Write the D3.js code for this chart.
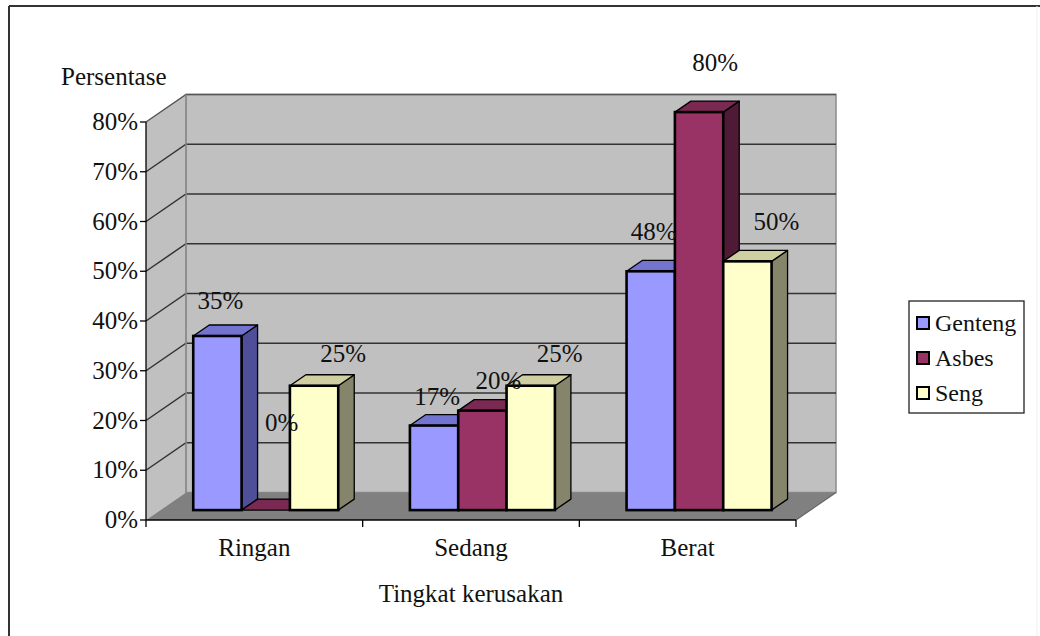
<!DOCTYPE html>
<html>
<head>
<meta charset="utf-8">
<script src="https://cdn.jsdelivr.net/npm/d3@7"></script>
<style>
  html, body { margin: 0; padding: 0; background: #fff; }
  svg { display: block; }
</style>
</head>
<body>
<svg id="chart" width="1040" height="636" font-family="'Liberation Serif', 'Times New Roman', 'DejaVu Serif', serif"></svg>
<script>
// Tingkat kerusakan atap per jenis bahan
const categories = ["Ringan", "Sedang", "Berat"];
const series = ["Genteng", "Asbes", "Seng"];
const genteng = [0.35, 0.17, 0.48];
const asbes = [0.00, 0.20, 0.80];
const seng = [0.25, 0.25, 0.50];
const yTicks = [0, 0.1, 0.2, 0.3, 0.4, 0.5, 0.6, 0.7, 0.8];
const yTitle = "Persentase";
const xTitle = "Tingkat kerusakan";

const values = [genteng, asbes, seng];
const colors = {
  Genteng: { front: "#9999ff", top: "#7373d0", side: "#4f4f99" },
  Asbes:   { front: "#993366", top: "#7a2952", side: "#4f1a35" },
  Seng:    { front: "#ffffcc", top: "#cfcfa2", side: "#85856b" }
};
const FS = 25;

const svg = d3.select("#chart");

// outer frame
svg.append("line").attr("x1", 9).attr("y1", 6).attr("x2", 1040).attr("y2", 6)
  .attr("stroke", "#333").attr("stroke-width", 2);
svg.append("line").attr("x1", 9).attr("y1", 6).attr("x2", 9).attr("y2", 636)
  .attr("stroke", "#333").attr("stroke-width", 2);
svg.append("line").attr("x1", 1037).attr("y1", 6).attr("x2", 1037).attr("y2", 636)
  .attr("stroke", "#eeeeee").attr("stroke-width", 1);

// front plane scales
const x = d3.scaleBand().domain(categories).range([146, 796]);
const y = d3.scaleLinear().domain([0, 0.8]).range([520, 122]);

// oblique depth: z = 0 front plane, z = 1 back wall
const DX = 40, DY = 27.5;
const P = (px, py, z) => [px + z * DX, py - z * DY];
const poly = pts => "M" + pts.map(p => p.join(",")).join("L") + "Z";

const x0 = x.range()[0], x1 = x.range()[1];
const yTop = y(0.8), yBase = y(0);

// side wall
svg.append("path")
  .attr("d", poly([P(x0, yTop, 0), P(x0, yTop, 1), P(x0, yBase, 1), P(x0, yBase, 0)]))
  .attr("fill", "#c0c0c0").attr("stroke", "none");
// back wall
svg.append("path")
  .attr("d", poly([P(x0, yTop, 1), P(x1, yTop, 1), P(x1, yBase, 1), P(x0, yBase, 1)]))
  .attr("fill", "#c0c0c0").attr("stroke", "#8c8c8c").attr("stroke-width", 1.5);

// gridlines on both walls
yTicks.filter(t => t > 0).forEach(t => {
  const a = P(x0, y(t), 0), b = P(x0, y(t), 1), c = P(x1, y(t), 1);
  svg.append("path").attr("d", `M${a}L${b}L${c}`)
    .attr("fill", "none").attr("stroke", t === 0.8 ? "#555" : "#333")
    .attr("stroke-width", 1.5);
});
// wall corner
svg.append("line")
  .attr("x1", P(x0, yTop, 1)[0]).attr("y1", P(x0, yTop, 1)[1])
  .attr("x2", P(x0, yBase, 1)[0]).attr("y2", P(x0, yBase, 1)[1])
  .attr("stroke", "#8c8c8c").attr("stroke-width", 1.5);

// floor
svg.append("path")
  .attr("d", poly([P(x0, yBase, 0), P(x0, yBase, 1), P(x1, yBase, 1), P(x1, yBase, 0)]))
  .attr("fill", "#808080").attr("stroke", "none");
svg.append("path")
  .attr("d", `M${P(x1, yBase, 0)}L${P(x1, yBase, 1)}`)
  .attr("stroke", "#666").attr("stroke-width", 1.2);

// bars
const zFront = 0.36, zBack = 0.76;
const groupW = 145;
const s = d3.scaleBand().domain(series).range([0, groupW]);
const groupLeft = c => x(c) + (x.bandwidth() - groupW) / 2 - 3;

const bars = [];
categories.forEach((c, ci) => {
  series.forEach((name, si) => {
    bars.push({ c, ci, name, si, v: values[si][ci] });
  });
});

const gBars = svg.append("g");
bars.forEach(d => {
  const l = groupLeft(d.c) + s(d.name), r = l + s.bandwidth();
  const yt = y(d.v), yb = y(0);
  const col = colors[d.name];
  // side face
  gBars.append("path")
    .attr("d", poly([P(r, yt, zFront), P(r, yt, zBack), P(r, yb, zBack), P(r, yb, zFront)]))
    .attr("fill", col.side).attr("stroke", "#000").attr("stroke-width", 1.3)
    .attr("stroke-linejoin", "round");
  // top face
  gBars.append("path")
    .attr("d", poly([P(l, yt, zFront), P(l, yt, zBack), P(r, yt, zBack), P(r, yt, zFront)]))
    .attr("fill", col.top).attr("stroke", "#000").attr("stroke-width", 1.3)
    .attr("stroke-linejoin", "round");
  // front face
  if (d.v > 0) {
    const a = P(l, yt, zFront), b = P(r, yb, zFront);
    gBars.append("rect")
      .attr("x", a[0]).attr("y", a[1])
      .attr("width", b[0] - a[0]).attr("height", b[1] - a[1])
      .attr("fill", col.front).attr("stroke", "#000").attr("stroke-width", 2.6);
  }
});

// value labels, spread a little per series; very short bars get lifted off the floor
const fmt = d3.format(".0%");
bars.forEach(d => {
  const l = groupLeft(d.c) + s(d.name);
  const cx = l + s.bandwidth() / 2 + (d.si - 1) * 13;
  const lv = Math.max(d.v, 0.12);
  const p = P(cx, y(lv), zBack);
  svg.append("text")
    .attr("x", p[0]).attr("y", p[1] - (4 + 33 * lv))
    .attr("text-anchor", "middle")
    .attr("font-size", FS).attr("fill", "#111")
    .text(fmt(d.v));
});

// y axis
svg.append("line").attr("x1", x0).attr("y1", yTop).attr("x2", x0).attr("y2", yBase)
  .attr("stroke", "#000").attr("stroke-width", 1.3);
yTicks.forEach(t => {
  svg.append("line").attr("x1", x0 - 6).attr("x2", x0).attr("y1", y(t)).attr("y2", y(t))
    .attr("stroke", "#000").attr("stroke-width", 1.3);
  svg.append("text").attr("x", x0 - 8).attr("y", y(t) + 8)
    .attr("text-anchor", "end").attr("font-size", FS).attr("fill", "#111").text(fmt(t));
});
svg.append("text").attr("x", 61).attr("y", 85).attr("font-size", FS).attr("fill", "#111").text(yTitle);

// x axis
svg.append("line").attr("x1", x0).attr("y1", yBase).attr("x2", x1).attr("y2", yBase)
  .attr("stroke", "#000").attr("stroke-width", 1.3);
[...categories.map(c => x(c)), x1].forEach(tx => {
  svg.append("line").attr("x1", tx).attr("x2", tx).attr("y1", yBase).attr("y2", yBase + 7)
    .attr("stroke", "#000").attr("stroke-width", 1.3);
});
categories.forEach(c => {
  svg.append("text").attr("x", x(c) + x.bandwidth() / 2).attr("y", 556)
    .attr("text-anchor", "middle").attr("font-size", FS).attr("fill", "#111").text(c);
});
svg.append("text").attr("x", (x0 + x1) / 2).attr("y", 602)
  .attr("text-anchor", "middle").attr("font-size", FS).attr("fill", "#111").text(xTitle);

// legend
const lg = svg.append("g").attr("transform", "translate(909,301)");
lg.append("rect").attr("width", 115).attr("height", 112)
  .attr("fill", "#fff").attr("stroke", "#222").attr("stroke-width", 1.3);
series.forEach((name, i) => {
  const cy = 22 + i * 35;
  lg.append("rect").attr("x", 8).attr("y", cy - 6).attr("width", 12).attr("height", 12)
    .attr("fill", colors[name].front).attr("stroke", "#000").attr("stroke-width", 2);
  lg.append("text").attr("x", 26).attr("y", cy + 8).attr("font-size", 24).attr("fill", "#111").text(name);
});
</script>
</body>
</html>
